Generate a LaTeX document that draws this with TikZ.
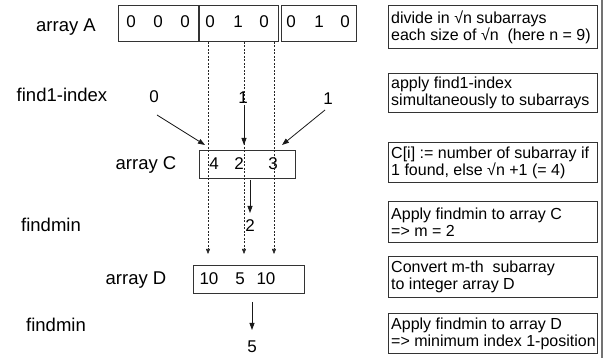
\documentclass[tikz,border=0pt]{standalone}
\usepackage{fontspec}
\setmainfont{Liberation Sans}
\usetikzlibrary{arrows.meta}
\begin{document}
\begin{tikzpicture}[x=1pt,y=-1pt,
  lbl/.style={anchor=base, inner sep=0pt, font=\fontsize{18.5}{19}\selectfont},
  num/.style={anchor=base, inner sep=0pt, font=\fontsize{17}{18}\selectfont},
  box/.style={draw=black!80, line width=0.8pt, anchor=north west, inner sep=0pt},
  notebox/.style={draw=black!80, line width=0.8pt, anchor=north west, inner sep=0pt, minimum width=209pt, minimum height=41pt},
  notetext/.style={anchor=west, align=left, inner xsep=3pt, inner ysep=0pt, font=\fontsize{16}{17}\selectfont},
  conn/.style={-{Triangle[length=7pt,width=5pt]}, line width=0.8pt, black!90},
  dconn/.style={-{Triangle[length=5pt,width=4pt]}, line width=0.6pt, black!85, dash pattern=on 2pt off 1.5pt}
]
\useasboundingbox (0,0) rectangle (606,358);

% array A
\node[lbl] (lA) at (66,32) {array A};
\node[box, minimum width=80pt, minimum height=36pt] (A1) at (118,5) {};
\node[box, minimum width=79pt, minimum height=36pt] (A2) at (199,5) {};
\node[box, minimum width=75pt, minimum height=36pt] (A3) at (281,5) {};
\node[num] (a1) at (131,28) {0};
\node[num] (a2) at (158,28) {0};
\node[num] (a3) at (185,28) {0};
\node[num] (a4) at (210,28) {0};
\node[num] (a5) at (238,28) {1};
\node[num] (a6) at (264,28) {0};
\node[num] (a7) at (291,28) {0};
\node[num] (a8) at (319,28) {1};
\node[num] (a9) at (345,28) {0};

% find1-index
\node[lbl] (lF) at (62,102) {find1-index};
\node[num] (r0) at (154,103) {0};
\node[num] (r1) at (243,104) {1};
\node[num] (r2) at (328,105) {1};

% array C
\node[lbl] (lC) at (146,170) {array C};
\node[box, minimum width=96pt, minimum height=28pt] (C) at (199,150) {};
\node[num] (c1) at (214,170) {4};
\node[num] (c2) at (239,170) {2};
\node[num] (c3) at (273,170) {3};

% findmin 1
\node[lbl] (lM1) at (51,232) {findmin};
\node[num] (m) at (250,232) {2};

% array D
\node[lbl] (lD) at (136,285) {array D};
\node[box, minimum width=111pt, minimum height=28pt] (D) at (193,265) {};
\node[num] (d1) at (209,285) {10};
\node[num] (d2) at (240,285) {5};
\node[num] (d3) at (266,285) {10};

% findmin 2
\node[lbl] (lM2) at (56,332) {findmin};
\node[num] (res) at (252,353) {5};

% dashed connectors
\coordinate (s1) at (208,42);  \coordinate (e1) at (208,254);
\coordinate (s2) at (244,42);  \coordinate (e2) at (244,254);
\coordinate (s3) at (274,42);  \coordinate (e3) at (274,254);
\draw[dconn] (s1) -- (e1);
\draw[dconn] (s2) -- (e2);
\draw[dconn] (s3) -- (e3);

% solid connectors
\coordinate (t0) at (205,145);
\coordinate (t1) at (244,145);
\coordinate (t2) at (282,145);
\draw[conn] (157,115) -- (t0);
\draw[conn] (244,107) -- (t1);
\draw[conn] (325,110) -- (t2);
\draw[conn] (250,180) -- (250,213);
\draw[conn] (252,302) -- (252,330);

% notes
\node[notebox, minimum height=43pt] (n1) at (388,5) {};
\node[notetext] (n1t) at (n1.west) {divide in √n subarrays\\each size of √n\ \ (here n = 9)};
\node[notebox, minimum height=39pt] (n2) at (388,73) {};
\node[notetext] (n2t) at (n2.west) {apply find1-index\\simultaneously to subarrays};
\node[notebox, minimum height=40pt] (n3) at (388,142) {};
\node[notetext] (n3t) at (n3.west) {C[i] := number of subarray if\\1 found, else √n +1 (= 4)};
\node[notebox] (n4) at (388,201) {};
\node[notetext] (n4t) at (n4.west) {Apply findmin to array C\\=> m = 2};
\node[notebox] (n5) at (388,256) {};
\node[notetext] (n5t) at (n5.west) {Convert m-th\ \ subarray\\to integer array D};
\node[notebox, minimum height=40pt] (n6) at (388,313) {};
\node[notetext] (n6t) at (n6.west) {Apply findmin to array D\\=> minimum index 1-position};

\draw[line width=1.6pt, black!55] (602,0) -- (602,358);
\end{tikzpicture}
\end{document}
